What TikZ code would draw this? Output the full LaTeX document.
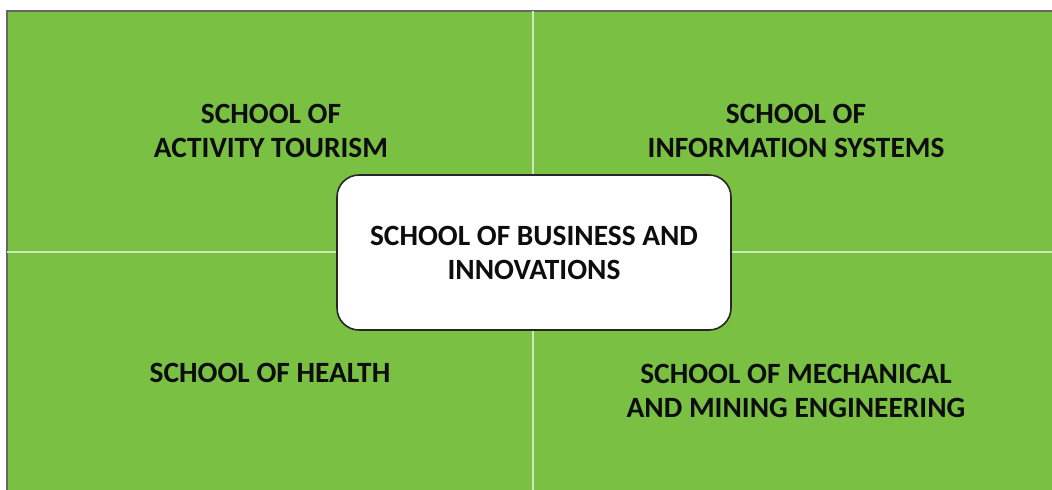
\documentclass[tikz,border=0pt]{standalone}
\usepackage{fontspec}
\setmainfont{Carlito}
\usetikzlibrary{positioning}
\definecolor{schoolgreen}{RGB}{122,192,67}
\definecolor{splitline}{RGB}{206,232,186}

\begin{document}
\begin{tikzpicture}[x=0.5pt,y=0.5pt,
  label/.style={align=center,font=\fontsize{14.7}{17}\selectfont\bfseries,text=black!95},
  hub/.style={label,draw=black!85,line width=0.8pt,fill=white,rounded corners=11pt,minimum width=197pt,minimum height=77.5pt}]
  \useasboundingbox (0,0) rectangle (1052,489);
  \clip (0,0) rectangle (1052,489);
  % background and quadrants
  \draw[fill=schoolgreen,draw=black!60,line width=1pt] (7,-10) rectangle (1070,478);
  \coordinate (mid) at (533,237);
  \draw[splitline,line width=0.7pt] (533,478) -- (533,-10);
  \draw[splitline,line width=0.7pt] (7,237) -- (1070,237);
  % schools
  \node[label] (tourism) at (271,358) {SCHOOL OF\\ACTIVITY TOURISM};
  \node[label] (info) at (796,358) {SCHOOL OF\\INFORMATION SYSTEMS};
  \node[label] (health) at (270,116) {SCHOOL OF HEALTH};
  \node[label] (mining) at (796,98) {SCHOOL OF MECHANICAL\\AND MINING ENGINEERING};
  \node[hub] (business) at (534,236.5) {SCHOOL OF BUSINESS AND\\INNOVATIONS};
\end{tikzpicture}
\end{document}
